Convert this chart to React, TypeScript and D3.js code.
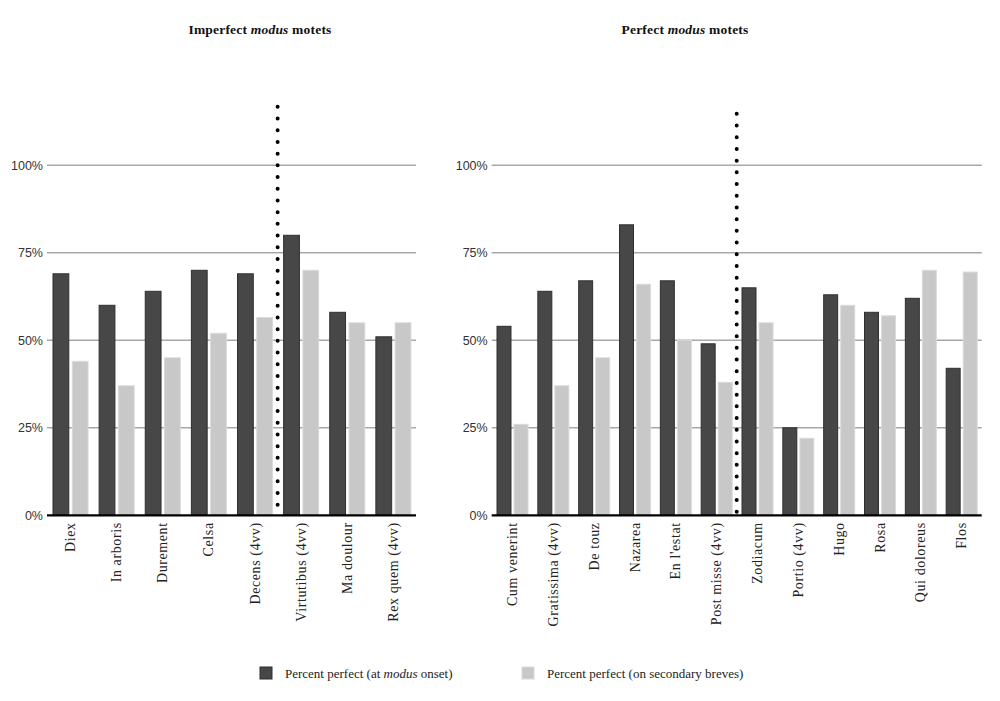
import * as d3 from "d3";

// values (fractions of 1)
const imperfectNames = ["Diex", "In arboris", "Durement", "Celsa", "Decens (4vv)", "Virtutibus (4vv)", "Ma doulour", "Rex quem (4vv)"];
const imperfectOnset = [0.69, 0.60, 0.64, 0.70, 0.69, 0.80, 0.58, 0.51];
const imperfectSecondary = [0.44, 0.37, 0.45, 0.52, 0.565, 0.70, 0.55, 0.55];

const perfectNames = ["Cum venerint", "Gratissima (4vv)", "De touz", "Nazarea", "En l'estat", "Post misse (4vv)", "Zodiacum", "Portio (4vv)", "Hugo", "Rosa", "Qui doloreus", "Flos"];
const perfectOnset = [0.54, 0.64, 0.67, 0.83, 0.67, 0.49, 0.65, 0.25, 0.63, 0.58, 0.62, 0.42];
const perfectSecondary = [0.26, 0.37, 0.45, 0.66, 0.50, 0.38, 0.55, 0.22, 0.60, 0.57, 0.70, 0.695];

const yTicks = [0, 0.25, 0.5, 0.75, 1];
const seriesKeys = ["onset", "secondary"];
const seriesColors = ["#474747", "#c8c8c8"];
const seriesStroke = ["#2f2f2f", "#dadada"];

const W = 1000;
const H = 701;
const SERIF = "'Liberation Serif', 'Times New Roman', serif";
const SANS = "'Liberation Sans', Arial, sans-serif";

const y = d3.scaleLinear().domain([0, 1]).range([515.3, 165.3]);

interface PanelProps {
  names: string[];
  onset: number[];
  secondary: number[];
  x0: number;
  x1: number;
  divideAfter: number;
  dotTop: number;
  dotBottom: number;
  title: string;
  titleX: number;
}

function Panel(p: PanelProps) {
  const xg = d3.scaleBand().domain(p.names).range([p.x0, p.x1]).padding(0);
  const inner = d3
    .scaleBand()
    .domain(seriesKeys)
    .range([xg.step() * 0.13, xg.step() * 0.89])
    .paddingInner(0.18);
  const divX = (xg(p.names[p.divideAfter]) as number);

  return (
    <g>
      <text
        x={p.titleX}
        y={34}
        textAnchor="middle"
        fontFamily={SERIF}
        fontWeight="bold"
        fontSize={13.5}
        letterSpacing={0.2}
        fill="#111"
      >
        {p.title.split("modus")[0]}
        <tspan fontStyle="italic">modus</tspan>
        {p.title.split("modus")[1]}
      </text>

      {/* gridlines */}
      {yTicks.filter((t) => t > 0).map((t) => (
        <line key={t} x1={p.x0} x2={p.x1} y1={y(t)} y2={y(t)} stroke="#a8a8a8" strokeWidth={1.5} />
      ))}
      {yTicks.map((t) => (
        <text
          key={"l" + t}
          x={p.x0 - 4}
          y={y(t)}
          dy="0.35em"
          textAnchor="end"
          fontFamily={SANS}
          fontSize={12.5}
          fill="#333"
        >
          {d3.format(".0%")(t)}
        </text>
      ))}

      {/* bars */}
      {p.names.map((n, i) => (
        <g key={n} transform={`translate(${xg(n)},0)`}>
          {[p.onset[i], p.secondary[i]].map((v, k) => (
            <rect
              key={k}
              x={inner(seriesKeys[k])}
              y={y(v)}
              width={inner.bandwidth()}
              height={y(0) - y(v)}
              fill={seriesColors[k]}
              stroke={seriesStroke[k]}
              strokeWidth={1}
            />
          ))}
        </g>
      ))}

      {/* baseline */}
      <line x1={p.x0} x2={p.x1} y1={y(0)} y2={y(0)} stroke="#000" strokeWidth={2.2} />

      {/* dotted divider */}
      <line
        x1={divX}
        x2={divX}
        y1={y(p.dotTop)}
        y2={y(p.dotBottom)}
        stroke="#000"
        strokeWidth={4}
        strokeLinecap="round"
        strokeDasharray="0 11.7"
      />

      {/* category labels */}
      {p.names.map((n) => (
        <text
          key={"c" + n}
          transform={`translate(${(xg(n) as number) + xg.bandwidth() / 2 + 5},${y(0) + 7}) rotate(-90)`}
          textAnchor="end"
          fontFamily={SERIF}
          fontSize={14}
          letterSpacing={0.6}
          fill="#222"
        >
          {n}
        </text>
      ))}
    </g>
  );
}

const legendItems = ["Percent perfect (at |modus| onset)", "Percent perfect (on secondary breves)"];
const legendX = [260, 522];

export default function App() {
  return (
    <svg
      width={W}
      height={H}
      viewBox={`0 0 ${W} ${H}`}
      style={{ position: "absolute", left: 0, top: 0, background: "#fff" }}
    >
      <rect width={W} height={H} fill="#fff" />
      <Panel
        names={imperfectNames}
        onset={imperfectOnset}
        secondary={imperfectSecondary}
        x0={47}
        x1={416}
        divideAfter={5}
        dotTop={1.167}
        dotBottom={0.025}
        title="Imperfect modus motets"
        titleX={260}
      />
      <Panel
        names={perfectNames}
        onset={perfectOnset}
        secondary={perfectSecondary}
        x0={491.7}
        x1={981.7}
        divideAfter={6}
        dotTop={1.147}
        dotBottom={0}
        title="Perfect modus motets"
        titleX={685}
      />

      {/* legend */}
      {legendItems.map((txt, i) => {
        const parts = txt.split("|");
        return (
          <g key={txt} transform={`translate(${legendX[i]},667)`}>
            <rect width={12} height={12} fill={seriesColors[i]} stroke={seriesStroke[i]} strokeWidth={1} />
            <text x={25} y={6} dy="0.35em" fontFamily={SERIF} fontSize={13} fill="#222">
              {parts[0]}
              {parts.length > 1 && <tspan fontStyle="italic">{parts[1]}</tspan>}
              {parts.length > 2 && parts[2]}
            </text>
          </g>
        );
      })}
    </svg>
  );
}
